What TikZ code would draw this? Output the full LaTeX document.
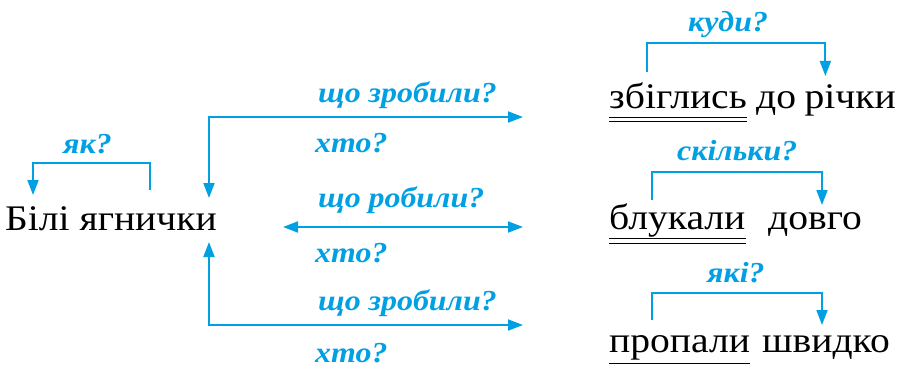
\documentclass[tikz,border=0pt]{standalone}
\usepackage{fontspec}
\setmainfont{Liberation Serif}[FakeStretch=1.1]
\usetikzlibrary{positioning, arrows.meta}
\definecolor{qblue}{RGB}{0,160,227}

\begin{document}
\begin{tikzpicture}[x=1pt, y=-1pt,
    >={Triangle[length=15pt, width=11pt]},
    word/.style={inner sep=0pt, anchor=base west, font=\fontsize{36}{36}\selectfont},
    quest/.style={inner sep=0pt, anchor=base west, text=qblue,
                  font=\fontsize{29}{29}\selectfont\bfseries\itshape},
    arr/.style={->, draw=qblue, line width=1.8pt},
    uline/.style={line width=0.9pt}
  ]
  \useasboundingbox (0,0) rectangle (899,369);

  % words of the sentence
  \node[word] (bili) at (5,230) {Білі ягнички};
  \node[word] (zbig) at (609,108) {збіглись};
  \node[word, right=9pt of zbig.base east, anchor=base west] (do) {до};
  \node[word, right=8pt of do.base east, anchor=base west] (richky) {річки};
  \node[word] (bluk) at (609,229) {блукали};
  \node[word] (dovho) at (768,229) {довго};
  \node[word] (prop) at (609,352) {пропали};
  \node[word] (shvyd) at (762,352) {швидко};

  % questions
  \node[quest] (yak) at (63,153) {як?};
  \node[quest] (zrob1) at (318,102) {що зробили?};
  \node[quest] (hto1) at (315,152) {хто?};
  \node[quest] (rob) at (318,207) {що робили?};
  \node[quest] (hto2) at (315,262) {хто?};
  \node[quest] (zrob2) at (318,310) {що зробили?};
  \node[quest] (hto3) at (315,362) {хто?};
  \node[quest] (kudy) at (688,32) {куди?};
  \node[quest] (skil) at (677,160) {скільки?};
  \node[quest] (yaki) at (707,282) {які?};

  % arrow ends
  \coordinate (p1) at (523,117);
  \coordinate (p2) at (523,227);
  \coordinate (p3) at (523,325);
  \coordinate (m) at (283,227);

  % subject -- predicate
  \draw[arr, <->] ([xshift=-8pt, yshift=32pt]bili.base east) |- (p1);
  \draw[arr, <->] (m) -- (p2);
  \draw[arr, <->] ([xshift=-8pt, yshift=-12pt]bili.base east) |- (p3);

  % brackets
  \draw[arr] ([xshift=145pt, yshift=40pt]bili.base west) -- ++(0,-27) -| ([xshift=28pt, yshift=35pt]bili.base west);
  \draw[arr] ([xshift=38pt, yshift=36pt]zbig.base west) -- ++(0,-29) -| ([xshift=21pt, yshift=32pt]richky.base west);
  \draw[arr] ([xshift=43pt, yshift=29pt]bluk.base west) -- ++(0,-28) -| ([xshift=54pt, yshift=24pt]dovho.base west);
  \draw[arr] ([xshift=43pt, yshift=32pt]prop.base west) -- ++(0,-27) -| ([xshift=60pt, yshift=27pt]shvyd.base west);

  % underlines
  \draw[uline] ([yshift=-9pt]zbig.base west) -- ([yshift=-9pt]zbig.base east);
  \draw[uline] ([yshift=-13pt]zbig.base west) -- ([yshift=-13pt]zbig.base east);
  \draw[uline] ([yshift=-9pt]bluk.base west) -- ([yshift=-9pt]bluk.base east);
  \draw[uline] ([yshift=-14pt]bluk.base west) -- ([yshift=-14pt]bluk.base east);
  \draw[uline] ([yshift=-11pt]prop.base west) -- ([yshift=-11pt]prop.base east);
\end{tikzpicture}
\end{document}
